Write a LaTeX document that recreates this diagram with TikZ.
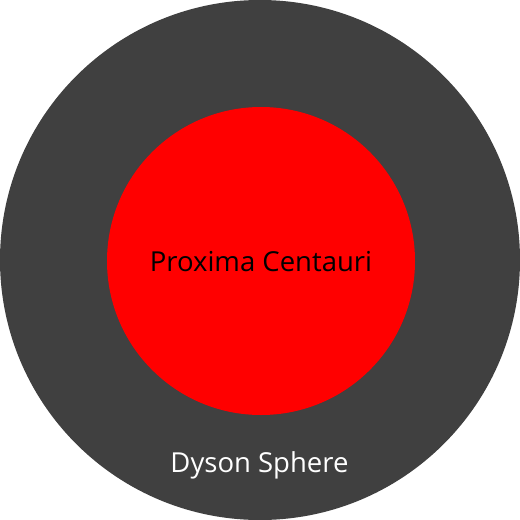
\documentclass[tikz,border=0pt]{standalone}
\usepackage{fontspec}
\setmainfont{Open Sans}
\definecolor{dyson}{HTML}{404040}
\definecolor{star}{HTML}{FF0000}
\begin{document}
\begin{tikzpicture}[x=1pt,y=-1pt]
\useasboundingbox (0,0) rectangle (520,520);
\fill[white] (0,0) rectangle (520,520);
\node[circle,fill=dyson,minimum size=520pt,inner sep=0pt] (sphere) at (260,260) {};
\node[circle,fill=star,minimum size=308pt,inner sep=0pt] (star) at (261,261) {};
\tikzset{lbl/.style={font=\fontsize{27.5}{32}\selectfont,inner sep=0pt,anchor=base}}
\node[lbl,text=black] (starlabel) at (261,271) {Proxima Centauri};
\node[lbl,text=white] (spherelabel) at (259.5,472) {Dyson Sphere};
\end{tikzpicture}
\end{document}
